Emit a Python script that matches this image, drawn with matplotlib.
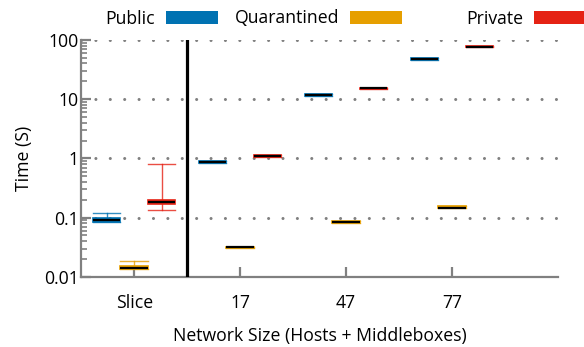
import matplotlib
matplotlib.use("Agg")
import matplotlib.pyplot as plt
from matplotlib.patches import Rectangle
from matplotlib.ticker import LogLocator, NullFormatter, FixedLocator

plt.rcParams["font.family"] = ["Open Sans", "DejaVu Sans"]
plt.rcParams["font.size"] = 12.7

categories = ["Slice", "17", "47", "77"]
series = ["Public", "Quarantined", "Private"]
colors = {"Public": "#0072B2", "Quarantined": "#E69F00", "Private": "#E52214"}

# per-series (q1, median, q3, whisker low, whisker high), one tuple per category
public = [
    (0.086, 0.093, 0.100, 0.086, 0.120),
    (0.84, 0.87, 0.90, 0.84, 0.90),
    (11.3, 11.8, 12.3, 11.3, 12.3),
    (46.5, 47.9, 49.5, 46.5, 49.5),
]
quarantined = [
    (0.0134, 0.0143, 0.0154, 0.0134, 0.0182),
    (0.0306, 0.0316, 0.0325, 0.0306, 0.0325),
    (0.081, 0.084, 0.088, 0.081, 0.088),
    (0.144, 0.147, 0.156, 0.144, 0.156),
]
private = [
    (0.170, 0.185, 0.200, 0.135, 0.80),
    (1.06, 1.09, 1.12, 1.06, 1.12),
    (15.0, 15.3, 15.6, 15.0, 15.6),
    (75.5, 77.0, 78.5, 75.5, 78.5),
]
data = {"Public": public, "Quarantined": quarantined, "Private": private}

fig = plt.figure(figsize=(5.84, 3.47), dpi=100)
ax = fig.add_axes([0.139, 0.202, 0.816, 0.683])

grey = "#808080"
width = 0.26
offsets = {"Public": -0.26, "Quarantined": 0.0, "Private": 0.26}

for name in series:
    stats = []
    for q1, med, q3, lo, hi in data[name]:
        stats.append(dict(q1=q1, med=med, q3=q3, whislo=lo, whishi=hi, fliers=[]))
    pos = [i + offsets[name] for i in range(len(categories))]
    c = colors[name]
    ax.bxp(stats, positions=pos, widths=width, patch_artist=True,
           showfliers=False, capwidths=width,
           boxprops=dict(facecolor=c, edgecolor=c, lw=1.2),
           medianprops=dict(color="black", lw=1.6),
           whiskerprops=dict(color=c, lw=1.0, alpha=0.8),
           capprops=dict(color=c, lw=1.0, alpha=0.8),
           zorder=3)

# horizontal dotted grid at each decade
for y in [0.01, 0.1, 1, 10, 100]:
    ax.axhline(y, color=grey, lw=2.2, ls=(0, (0.01, 4.7)),
               dash_capstyle="round", zorder=1)

# separator between the slice result and the network sizes
ax.axvline(0.5, color="black", lw=2.3, zorder=4)

ax.set_yscale("log")
ax.set_ylim(0.01, 100)
ax.set_xlim(-0.5, 4.0)
ax.yaxis.set_major_locator(FixedLocator([0.01, 0.1, 1, 10, 100]))
ax.set_yticklabels(["0.01", "0.1", "1", "10", "100"])
ax.yaxis.set_minor_locator(LogLocator(base=10, subs=range(2, 10)))
ax.yaxis.set_minor_formatter(NullFormatter())
ax.set_xticks(range(len(categories)))
ax.set_xticklabels(categories)

for side in ["top", "right"]:
    ax.spines[side].set_visible(False)
for side in ["left", "bottom"]:
    ax.spines[side].set_color(grey)
    ax.spines[side].set_linewidth(1.6)

ax.tick_params(axis="both", which="major", direction="in", length=7,
               width=1.6, color=grey, labelsize=12.7)
ax.tick_params(axis="x", which="major", pad=12)
ax.tick_params(axis="y", which="major", pad=2)
ax.tick_params(axis="y", which="minor", direction="in", length=4,
               width=1.2, color=grey)

ax.set_ylabel("Time (S)", fontsize=12.7, labelpad=8)
ax.set_xlabel("Network Size (Hosts + Middleboxes)", fontsize=12.7, labelpad=11)

# key along the top: label right-aligned, swatch to its right
key_text_right = [155, 339, 523]
for name, xr in zip(series, key_text_right):
    fig.text(xr / 584, 1 - 18.5 / 347, name, ha="right", va="center",
             fontsize=12.7)
    fig.patches.append(Rectangle(((xr + 11) / 584, 1 - 24 / 347), 52 / 584,
                                 13 / 347, transform=fig.transFigure,
                                 facecolor=colors[name], edgecolor="none"))

fig.savefig("out.png", dpi=100)
